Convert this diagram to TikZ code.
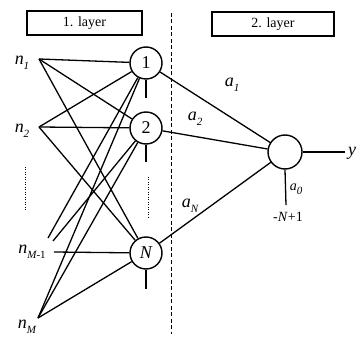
\documentclass[tikz,border=0pt]{standalone}
\usepackage{fontspec}
\setmainfont{Liberation Serif}
\newcommand{\lowsub}[1]{\raisebox{-0.3em}{\fontsize{11}{11}\selectfont #1}}
\begin{document}
\begin{tikzpicture}[x=1pt,y=-1pt,
  neuron/.style={circle,draw,line width=1.4pt,minimum size=32pt,inner sep=0pt,font=\fontsize{18}{18}\selectfont},
  conn/.style={line width=1.3pt},
  lab/.style={inner sep=0pt,font=\fontsize{18}{18}\selectfont},
  small/.style={inner sep=0pt,font=\fontsize{14}{14}\selectfont},
  dots/.style={line width=0.9pt, dash pattern=on 0.9pt off 1.6pt},
  layerbox/.style={draw,line width=1.3pt,minimum width=115pt,minimum height=24pt,inner sep=0pt,font=\fontsize{14}{14}\selectfont}]
\useasboundingbox (0,0) rectangle (356,339);
\node[layerbox] (L1) at (84.5,23) {1. layer};
\node[layerbox, minimum width=122pt] (L2) at (273,24) {2. layer};
\draw[line width=1pt, dash pattern=on 4pt off 2.5pt] (171,13) coordinate (d1) -- (171,334) coordinate (d2);
\node[neuron] (h1) at (146,63) {1};
\node[neuron] (h2) at (146,128) {2};
\node[neuron] (hN) at (146,253) {\itshape N};
\node[neuron,minimum size=34pt] (o) at (285,152) {};
\coordinate (i1) at (39,59);
\coordinate (i2) at (39,127);
\coordinate (iM1) at (54,252);
\coordinate (iM) at (38,318);
\coordinate (t1) at (48,238);
\coordinate (t2) at (53,241);
\node[lab] (n1) at (22,63) {\itshape n\lowsub{1}};
\node[lab] (n2) at (22,131) {\itshape n\lowsub{2}};
\node[lab] (nM1) at (32,252) {\itshape n\lowsub{\itshape M\upshape -1}};
\node[lab] (nM) at (27,327) {\itshape n\lowsub{\itshape M}};
% input connections
\foreach \s in {i1,i2,iM}{
  \foreach \t in {h1,h2,hN}{
    \draw[conn] (\s) -- (\t);
  }
}
\draw[conn] (iM1) -- (hN);
\draw[conn] (h1) -- (t1);
\draw[conn] (h2) -- (t2);
% bias lines
\coordinate (b1) at (146,98);
\coordinate (b2) at (146,162);
\coordinate (bN) at (146,289);
\coordinate (bo) at (286,205);
\draw[conn] (h1.south) -- (b1);
\draw[conn] (h2.south) -- (b2);
\draw[conn] (hN.south) -- (bN);
\draw[conn] (o.south) -- (bo);
% dotted lines
\draw[dots] (25,167) coordinate (p1) -- (25,210) coordinate (p2);
\draw[dots] (148,177) coordinate (q1) -- (148,218) coordinate (q2);
% output connections
\draw[conn] (h1) -- (o);
\draw[conn] (h2) -- (o);
\draw[conn] (hN) -- (o);
\coordinate (yend) at (345,152);
\draw[conn] (o.east) -- (yend);
\node[lab, anchor=west] (y) at (348,153) {\itshape y};
% weight labels
\node[lab] (a1) at (232,85) {\itshape a\lowsub{1}};
\node[lab] (a2) at (195,119) {\itshape a\lowsub{2}};
\node[lab] (aN) at (190,206) {\itshape a\lowsub{\itshape N}};
\node[small] (a0) at (296,189) {\itshape a\lowsub{0}};
\node[small] (bias) at (288,217) {-\textit{N}+1};
\end{tikzpicture}
\end{document}
